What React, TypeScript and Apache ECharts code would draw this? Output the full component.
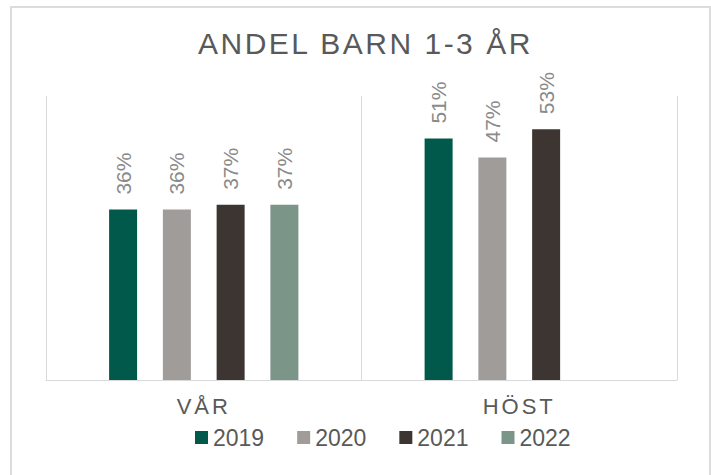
import React, { useEffect, useRef } from 'react';
import * as echarts from 'echarts';

const TITLE = 'ANDEL BARN 1-3 ÅR';
const categories = ['VÅR', 'HÖST'];
const seriesNames = ['2019', '2020', '2021', '2022'];
const v2019 = [36, 51];
const v2020 = [36, 47];
const v2021 = [37, 53];
const v2022: (number | null)[] = [37, null];
const colors = ['#00594b', '#a09c99', '#3d3532', '#7b9689'];

const FONT = 'Arial, "Liberation Sans", sans-serif';

function applySpacing(el: HTMLElement) {
  el.querySelectorAll('text').forEach((t) => {
    const s = (t.textContent || '').trim();
    if (s === TITLE) (t as any).style.letterSpacing = '2.5px';
    else if (categories.includes(s)) (t as any).style.letterSpacing = '3px';
  });
}

export default function App() {
  const ref = useRef<HTMLDivElement>(null);
  useEffect(() => {
    const el = ref.current!;
    const chart = echarts.init(el, null, { renderer: 'svg' });
    const values = [v2019, v2020, v2021, v2022];
    chart.setOption({
      animation: false,
      backgroundColor: '#ffffff',
      title: {
        text: TITLE,
        left: 193,
        top: 23,
        textStyle: { fontFamily: FONT, fontSize: 30, fontWeight: 'normal', color: '#595959' },
      },
      grid: { left: 46, right: 34, top: 96, bottom: 95, containLabel: false },
      legend: {
        data: seriesNames,
        left: 190,
        top: 421,
        icon: 'rect',
        itemWidth: 13,
        itemHeight: 13,
        itemGap: 33,
        textStyle: { fontFamily: FONT, fontSize: 23, color: '#595959' },
      },
      xAxis: {
        type: 'category',
        data: categories,
        axisLine: { lineStyle: { color: '#d9d9d9', width: 1 } },
        axisTick: { show: false },
        splitLine: { show: true, interval: 0, lineStyle: { color: '#d9d9d9', width: 1 } },
        axisLabel: { fontFamily: FONT, fontSize: 22, color: '#595959', margin: 15 },
      },
      yAxis: { type: 'value', min: 0, max: 60, show: false },
      graphic: [
        {
          type: 'rect',
          silent: true,
          z: -10,
          shape: { x: 11, y: 7, width: 699, height: 480 },
          style: { fill: 'none', stroke: '#dcdcdc', lineWidth: 2 },
        },
      ],
      series: seriesNames.map((name, i) => ({
        name,
        type: 'bar',
        data: values[i],
        barWidth: 28,
        barGap: '92%',
        itemStyle: { color: colors[i] },
        label: {
          show: true,
          position: 'top',
          rotate: 90,
          align: 'left',
          verticalAlign: 'middle',
          distance: 15,
          fontFamily: FONT,
          fontSize: 21,
          color: '#8a8a8a',
          formatter: (p: any) => (p.value == null ? '' : Math.round(p.value) + '%'),
        },
      })),
    });
    applySpacing(el);
    const raf = requestAnimationFrame(() => applySpacing(el));
    chart.on('finished', () => applySpacing(el));
    return () => {
      cancelAnimationFrame(raf);
      chart.dispose();
    };
  }, []);
  return (
    <div
      ref={ref}
      style={{ position: 'absolute', left: 0, top: 0, width: 711, height: 475 }}
    />
  );
}
